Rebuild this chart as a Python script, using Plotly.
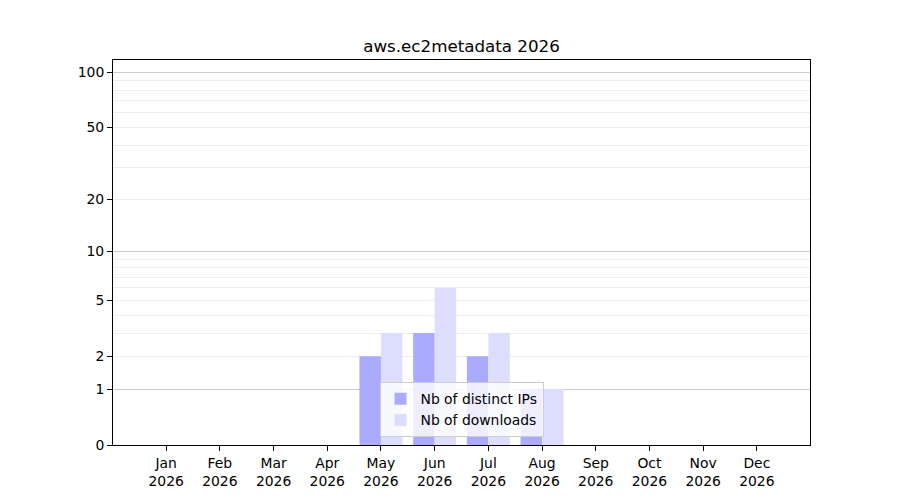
import numpy as np
import plotly.graph_objects as go

months = ["Jan", "Feb", "Mar", "Apr", "May", "Jun",
          "Jul", "Aug", "Sep", "Oct", "Nov", "Dec"]
year = "2026"
distinct_ips = [0, 0, 0, 0, 2, 3, 2, 1, 0, 0, 0, 0]
downloads = [0, 0, 0, 0, 3, 6, 3, 1, 0, 0, 0, 0]

labeled_ticks = [0, 1, 2, 5, 10, 20, 50, 100]
major_grid = [1, 10, 100]
minor_grid = [3, 4, 6, 7, 8, 9, 30, 40, 60, 70, 80, 90]

# symlog-ish axis: plot on a log axis shifted by +1 so that 0 sits at the bottom
shift = 1
x_pos = list(range(len(months)))
x_labels = [f"{m}<br>{year}" for m in months]

fig = go.Figure()
fig.add_trace(go.Bar(x=x_pos, y=distinct_ips, base=shift, name="Nb of distinct IPs",
                     marker=dict(color="#aaaaff", line=dict(width=0))))
fig.add_trace(go.Bar(x=x_pos, y=downloads, base=shift, name="Nb of downloads",
                     marker=dict(color="#ddddff", line=dict(width=0))))
# empty trace so the overlay axis (darker major grid) gets drawn
fig.add_trace(go.Scatter(x=[None], y=[None], yaxis="y2", showlegend=False, hoverinfo="skip"))

y_top = np.log10(116.5 + shift)

fig.update_layout(
    width=900, height=500,
    paper_bgcolor="white", plot_bgcolor="white",
    font=dict(family="DejaVu Sans", size=13.9, color="black"),
    margin=dict(l=105, r=98, t=52, b=63),
    barmode="group", bargap=0.2, bargroupgap=0,
    title=dict(text="aws.ec2metadata 2026", x=0.5, xref="paper", xanchor="center",
               y=1 - 38 / 500, yanchor="middle", font=dict(size=16.7)),
    showlegend=True,
    legend=dict(x=0.5, xanchor="center", y=0.02, yanchor="bottom",
                bgcolor="rgba(255,255,255,0.8)", bordercolor="#cccccc", borderwidth=1,
                font=dict(size=13.9), tracegroupgap=0),
    xaxis=dict(range=[-0.99, 11.99], tickmode="array", tickvals=x_pos, ticktext=x_labels,
               showgrid=False, zeroline=False, showline=True, linecolor="black", linewidth=1,
               mirror=True, ticks="outside", ticklen=5, tickcolor="black"),
    yaxis=dict(type="log", range=[0, y_top],
               tickmode="array", tickvals=[t + shift for t in labeled_ticks],
               ticktext=[str(t) for t in labeled_ticks],
               showgrid=True, gridcolor="#ececec", gridwidth=1,
               minor=dict(tickmode="array", tickvals=[t + shift for t in minor_grid],
                          showgrid=True, gridcolor="#ececec", gridwidth=1, ticks=""),
               zeroline=False, showline=True, linecolor="black", linewidth=1,
               mirror=True, ticks="outside", ticklen=5, tickcolor="black"),
    yaxis2=dict(type="log", range=[0, y_top], overlaying="y", side="left",
                tickmode="array", tickvals=[t + shift for t in major_grid],
                showticklabels=False, ticks="", showgrid=True, gridcolor="#cccccc",
                gridwidth=1, zeroline=False, showline=False),
)

fig.write_html("out.html")
